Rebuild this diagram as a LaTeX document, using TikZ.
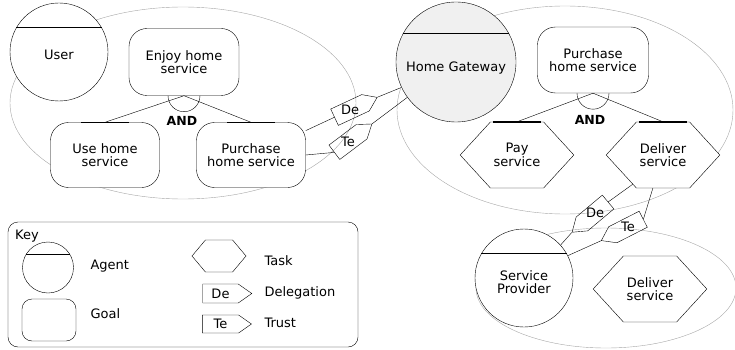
\documentclass[tikz,border=0pt]{standalone}
\usepackage{fontspec}
\setmainfont{DejaVu Sans}
\usetikzlibrary{shapes, positioning}

\tikzset{
  agent/.style={draw, circle, fill=white, inner sep=0pt},
  goal/.style={draw, rectangle, rounded corners=18pt, fill=white, align=center, minimum width=109pt, minimum height=65pt},
  task/.style={draw, signal, signal to=east and west, signal pointer angle=95, fill=white, align=center, minimum width=110pt, minimum height=66pt},
  depbox/.style={draw, signal, signal to=east, signal pointer angle=70, inner sep=1pt, minimum width=47pt, minimum height=18pt},
  boundary/.style={draw=black!35},
  andbar/.style={line width=1.6pt},
  andtext/.style={font=\bfseries\fontsize{12.5pt}{13pt}\selectfont},
}

\begin{document}
\begin{tikzpicture}[x=1pt, y=-1pt, node distance=146pt, font=\fontsize{13pt}{13.5pt}\selectfont]
    \useasboundingbox (0,0) rectangle (735,350);

    \draw[boundary] (183,103) ellipse [x radius=173, y radius=96];
    \draw[boundary] (565,110) ellipse [x radius=168, y radius=104];
    \draw[boundary] (606,288) ellipse [x radius=130, y radius=60];

    \node (user) [agent, minimum size=98pt, label={[yshift=-3pt]center:User}] at (59,52) {};
    \draw (user.150) -- (user.30);

    \node (ehs) [goal, minimum width=110pt, minimum height=67pt] at (184,62) {Enjoy home\\service};
    \node (ush) [goal] at (105,155) {Use home\\service};
    \node (phsl) [goal, right of=ush] {Purchase\\home service};

    \draw (ehs.south) -- (ush.north);
    \draw (ehs.south) -- (phsl.north);
    \draw (ehs.south) ++(-16,0) arc [start angle=180, end angle=0, radius=16];
    \draw[andbar] ([xshift=-24pt]ush.north) -- ([xshift=24pt]ush.north);
    \draw[andbar] ([xshift=-24pt]phsl.north) -- ([xshift=24pt]phsl.north);
    \node (and1) [andtext] at (182,121) {AND};

    \node (gw) [agent, minimum size=120pt, fill=black!6, label={[yshift=-6pt]center:Home Gateway}] at (456,62) {};
    \draw (gw.151) -- (gw.29);

    \node (phsr) [goal, minimum width=111pt, minimum height=66pt] at (593,60) {Purchase\\home service};
    \node (pay) [task] at (517,155) {Pay\\service};
    \node (dsv) [task, right of=pay] {Deliver\\service};

    \draw (phsr.south) -- (pay.north);
    \draw (phsr.south) -- (dsv.north);
    \draw (phsr.south) ++(-16,0) arc [start angle=180, end angle=0, radius=16];
    \draw[andbar] ([xshift=-24pt]pay.north) -- ([xshift=24pt]pay.north);
    \draw[andbar] ([xshift=-24pt]dsv.north) -- ([xshift=24pt]dsv.north);
    \node (and2) [andtext] at (590,120) {AND};

    \node (de1) [depbox, rotate=25, label=center:De] at (350,110) {};
    \draw (phsl.24) -- (de1.west);
    \draw (de1.east) -- (gw.205);
    \node (te1) [depbox, rotate=37, label=center:Te] at (348,142) {};
    \draw (phsl.east) -- (te1.west);
    \draw (te1.east) -- (gw.216);

    \node (sp) [agent, minimum size=98pt, label={[yshift=-4pt, align=center]center:Service\\Provider}] at (524,278) {};
    \draw (sp.150) -- (sp.30);
    \node (dsv2) [task] at (650,289) {Deliver\\service};

    \node (de2) [depbox, rotate=220, label=center:De] at (595,213) {};
    \draw (dsv.224) -- (de2.west);
    \draw (de2.east) -- (sp.42);
    \node (te2) [depbox, rotate=207, label=center:Te] at (628,227) {};
    \draw (dsv.253) -- (te2.west);
    \draw (te2.east) -- (sp.27);

    \node (key) [draw, rounded corners=10pt, minimum width=350pt, minimum height=125pt] at (183,284.5) {};
    \node (keytitle) [anchor=north west, inner sep=0pt] at (15,230) {Key};
    \node (kagent) [agent, minimum size=51pt] at (48,267.5) {};
    \draw (kagent.150) -- (kagent.30);
    \node (kgoal) [goal, rounded corners=10pt, minimum width=54pt, minimum height=42pt] at (49,320) {};
    \node (ktask) [task, signal pointer angle=100, minimum width=54pt, minimum height=32pt] at (219,256) {};
    \node (kde) [depbox, minimum width=49pt, minimum height=19pt] at (220.5,293.5) {De};
    \node (kte) [depbox, minimum width=49pt] at (220.5,324) {Te};
    \node (lagent) [anchor=base west] at (87,269) {Agent};
    \node (lgoal) [anchor=base west] at (87,318) {Goal};
    \node (ltask) [anchor=base west] at (261,265) {Task};
    \node (lde) [anchor=base west] at (261,296) {Delegation};
    \node (lte) [anchor=base west] at (261,327) {Trust};
\end{tikzpicture}
\end{document}
